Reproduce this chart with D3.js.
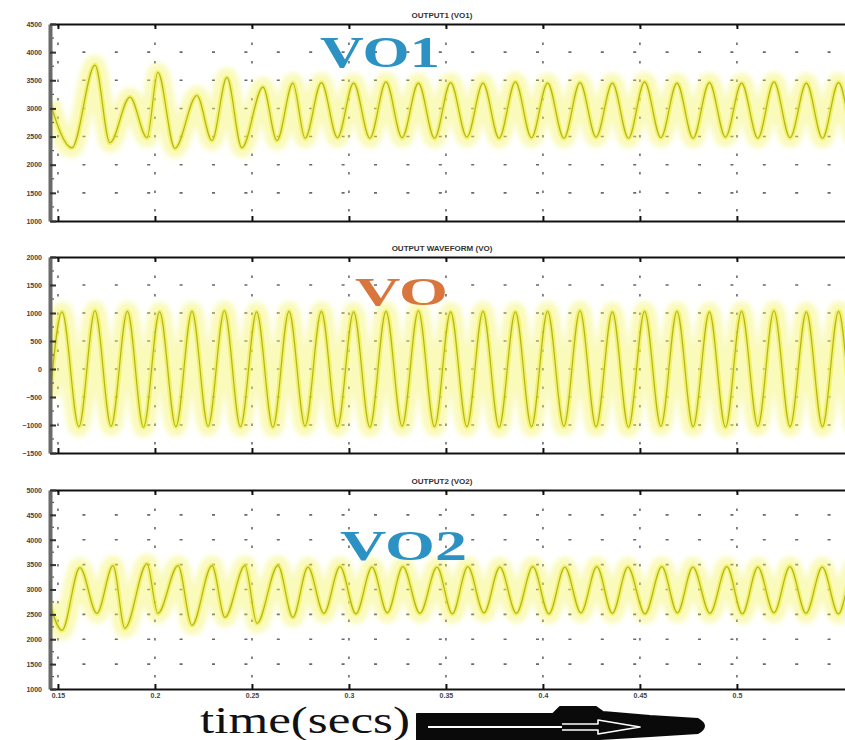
<!DOCTYPE html>
<html>
<head>
<meta charset="utf-8">
<script src="https://cdn.jsdelivr.net/npm/d3@7"></script>
<style>
  html, body { margin: 0; padding: 0; background: #fff; }
  svg { display: block; }
</style>
</head>
<body>
<svg id="chart" width="845" height="740"></svg>
<script>
// ---- time axis (seconds) ----
const timeTicks = [0.15, 0.2, 0.25, 0.3, 0.35, 0.4, 0.45, 0.5];
const timeTickLabels = ["0.15", "0.2", "0.25", "0.3", "0.35", "0.4", "0.45", "0.5"];
const timeDomain = [0.1459, 0.5686];

// ---- value ticks per panel ----
const vo1Ticks = [1000, 1500, 2000, 2500, 3000, 3500, 4000, 4500];
const voTicks = [-1500, -1000, -500, 0, 500, 1000, 1500, 2000];
const vo2Ticks = [1000, 1500, 2000, 2500, 3000, 3500, 4000, 4500, 5000];

const panelTitles = ["OUTPUT1 (VO1)", "OUTPUT WAVEFORM (VO)", "OUTPUT2 (VO2)"];
const panelNames = ["VO1", "VO", "VO2"];

// ---- waveform turning points [time, value] ----
const vo1Points = [
  [0.1459, 3100], [0.1572, 2300], [0.1691, 3770], [0.1768, 2390], [0.1871, 3200],
  [0.1959, 2480], [0.2015, 3640], [0.2103, 2290], [0.2216, 3230], [0.2294, 2430],
  [0.2371, 3550], [0.2448, 2300], [0.2557, 3380], [0.2629, 2430], [0.2711, 3450],
  [0.2774, 2470], [0.2858, 3460], [0.2941, 2480], [0.3024, 3450], [0.3108, 2470],
  [0.3191, 3470], [0.3274, 2480], [0.3358, 3450], [0.3441, 2470], [0.3524, 3460],
  [0.3608, 2490], [0.3691, 3450], [0.3774, 2470], [0.3858, 3470], [0.3941, 2480],
  [0.4024, 3450], [0.4108, 2470], [0.4191, 3460], [0.4274, 2490], [0.4358, 3450],
  [0.4441, 2470], [0.4524, 3470], [0.4608, 2480], [0.4691, 3450], [0.4774, 2470],
  [0.4858, 3460], [0.4941, 2490], [0.5024, 3450], [0.5108, 2470], [0.5191, 3470],
  [0.5274, 2480], [0.5358, 3450], [0.5441, 2470], [0.5524, 3460], [0.5608, 2480],
  [0.5691, 3450]
];

const voPoints = [
  [0.1459, -500], [0.1521, 1020], [0.1608, -1030], [0.1691, 1040], [0.1774, -1020],
  [0.1858, 1030], [0.1941, -1040], [0.2024, 1020], [0.2108, -1030], [0.2191, 1030],
  [0.2274, -1020], [0.2358, 1040], [0.2441, -1030], [0.2524, 1020], [0.2608, -1040],
  [0.2691, 1030], [0.2774, -1020], [0.2858, 1030], [0.2941, -1030], [0.3024, 1020],
  [0.3108, -1040], [0.3191, 1030], [0.3274, -1020], [0.3358, 1040], [0.3441, -1030],
  [0.3524, 1020], [0.3608, -1030], [0.3691, 1030], [0.3774, -1040], [0.3858, 1020],
  [0.3941, -1030], [0.4024, 1030], [0.4108, -1020], [0.4191, 1040], [0.4274, -1030],
  [0.4358, 1020], [0.4441, -1040], [0.4524, 1030], [0.4608, -1020], [0.4691, 1030],
  [0.4774, -1030], [0.4858, 1020], [0.4941, -1040], [0.5024, 1030], [0.5108, -1020],
  [0.5191, 1040], [0.5274, -1030], [0.5358, 1020], [0.5441, -1030], [0.5524, 1030],
  [0.5608, -1040], [0.5691, 1020]
];

const vo2Points = [
  [0.1459, 2700], [0.1521, 2180], [0.1613, 3440], [0.1701, 2520], [0.1784, 3480],
  [0.1845, 2220], [0.1959, 3520], [0.2015, 2520], [0.2119, 3480], [0.2191, 2280],
  [0.2294, 3480], [0.2361, 2440], [0.2464, 3480], [0.2526, 2320], [0.2634, 3480],
  [0.2711, 2440], [0.2789, 3450], [0.2871, 2520], [0.2954, 3460], [0.3036, 2510],
  [0.3119, 3450], [0.3198, 2530], [0.3278, 3460], [0.3366, 2520], [0.3454, 3450],
  [0.3533, 2510], [0.3613, 3460], [0.3696, 2530], [0.3778, 3450], [0.3863, 2520],
  [0.3948, 3460], [0.4031, 2510], [0.4113, 3450], [0.4196, 2530], [0.4278, 3460],
  [0.4358, 2520], [0.4438, 3450], [0.4526, 2510], [0.4613, 3460], [0.4693, 2530],
  [0.4773, 3450], [0.4861, 2520], [0.4948, 3460], [0.5028, 2510], [0.5108, 3450],
  [0.5191, 2530], [0.5273, 3460], [0.5356, 2520], [0.5440, 3450], [0.5523, 2510],
  [0.5606, 3460], [0.5690, 2520]
];

// ---- layout ----
const svg = d3.select("#chart");
const plotLeft = 50, plotRight = 870;
const panels = [
  { top: 24,  bottom: 221, ticks: vo1Ticks, points: vo1Points, title: panelTitles[0], name: panelNames[0],
    nameX: 320, nameY: 67, nameLen: 120, nameSize: 44, nameColor: "#2c92c4", xLabels: false },
  { top: 257, bottom: 453, ticks: voTicks, points: voPoints, title: panelTitles[1], name: panelNames[1],
    nameX: 355, nameY: 305, nameLen: 93, nameSize: 41, nameColor: "#d8763e", xLabels: false },
  { top: 490, bottom: 689, ticks: vo2Ticks, points: vo2Points, title: panelTitles[2], name: panelNames[2],
    nameX: 340, nameY: 560, nameLen: 127, nameSize: 43, nameColor: "#2c92c4", xLabels: true }
];

const x = d3.scaleLinear().domain(timeDomain).range([plotLeft, plotRight]);
const valueFormat = d3.format("d");

const defs = svg.append("defs");
defs.append("filter").attr("id", "glow").attr("x", "-5%").attr("y", "-30%").attr("width", "110%").attr("height", "160%")
  .append("feGaussianBlur").attr("stdDeviation", 2.8);

panels.forEach((p, i) => {
  const y = d3.scaleLinear().domain(d3.extent(p.ticks)).range([p.bottom, p.top]);
  const g = svg.append("g");

  defs.append("clipPath").attr("id", "clip" + i)
    .append("rect").attr("x", plotLeft).attr("y", p.top).attr("width", plotRight - plotLeft).attr("height", p.bottom - p.top);

  // horizontal dotted grid
  const inner = p.ticks.slice(1, -1);
  g.append("g").selectAll("line").data(inner).join("line")
    .attr("x1", plotLeft).attr("x2", plotRight)
    .attr("y1", d => y(d)).attr("y2", d => y(d))
    .attr("stroke", "#2a2a2a").attr("stroke-width", 1.6).attr("stroke-opacity", 0.7)
    .attr("stroke-dasharray", "3,29.4");

  // vertical dotted grid
  g.append("g").selectAll("line").data(timeTicks).join("line")
    .attr("x1", d => x(d)).attr("x2", d => x(d))
    .attr("y1", p.top).attr("y2", p.bottom)
    .attr("stroke", "#2a2a2a").attr("stroke-width", 1.6).attr("stroke-opacity", 0.7)
    .attr("stroke-dasharray", "2.5,16");

  // waveform
  const line = d3.line().x(d => x(d[0])).y(d => y(d[1])).curve(d3.curveMonotoneX);
  const wave = g.append("g").attr("clip-path", `url(#clip${i})`);
  wave.append("path").datum(p.points).attr("d", line)
    .attr("fill", "none").attr("stroke", "#f2f25e").attr("stroke-width", 20)
    .attr("stroke-opacity", 0.42).attr("stroke-linejoin", "round").attr("filter", "url(#glow)");
  wave.append("path").datum(p.points).attr("d", line)
    .attr("fill", "none").attr("stroke", "#ecec3a").attr("stroke-width", 5)
    .attr("stroke-opacity", 0.6).attr("stroke-linejoin", "round");
  wave.append("path").datum(p.points).attr("d", line)
    .attr("fill", "none").attr("stroke", "#b4b41e").attr("stroke-width", 1.2)
    .attr("stroke-linejoin", "round");

  // top border with inward ticks
  const topAxis = g.append("g").attr("transform", `translate(0,${p.top})`)
    .call(d3.axisTop(x).tickValues(timeTicks).tickSizeInner(-5).tickSizeOuter(0).tickFormat(""));
  topAxis.select(".domain").attr("stroke", "#111").attr("stroke-width", 2);
  topAxis.selectAll(".tick line").attr("stroke", "#111").attr("stroke-width", 2);

  // bottom border with inward ticks
  const botAxis = g.append("g").attr("transform", `translate(0,${p.bottom})`)
    .call(d3.axisBottom(x).tickValues(timeTicks).tickSizeInner(-5).tickSizeOuter(0).tickPadding(4)
      .tickFormat(p.xLabels ? (d, k) => timeTickLabels[k] : ""));
  botAxis.select(".domain").attr("stroke", "#111").attr("stroke-width", 2);
  botAxis.selectAll(".tick line").attr("stroke", "#111").attr("stroke-width", 2);
  botAxis.selectAll(".tick text").attr("font-family", "Liberation Sans, Arial, sans-serif")
    .attr("font-size", 7).attr("font-weight", "bold").attr("fill", "#444");

  // minor ticks on the value axis
  const minor = d3.range(p.ticks.length - 1).map(k => (p.ticks[k] + p.ticks[k + 1]) / 2);
  g.append("g").selectAll("line").data(minor).join("line")
    .attr("x1", plotLeft).attr("x2", plotLeft + 4)
    .attr("y1", d => y(d)).attr("y2", d => y(d))
    .attr("stroke", "#555").attr("stroke-width", 1.2);

  // value axis
  const leftAxis = g.append("g").attr("transform", `translate(${plotLeft},0)`)
    .call(d3.axisLeft(y).tickValues(p.ticks).tickFormat(valueFormat)
      .tickSizeInner(-6).tickSizeOuter(0).tickPadding(8));
  leftAxis.select(".domain").attr("stroke", "#6a6a6a").attr("stroke-width", 4);
  leftAxis.selectAll(".tick line").attr("stroke", "#333").attr("stroke-width", 2);
  leftAxis.selectAll(".tick text").attr("font-family", "Liberation Sans, Arial, sans-serif")
    .attr("font-size", 7).attr("font-weight", "bold").attr("fill", "#444");

  // panel title
  g.append("text").attr("x", 442).attr("y", p.top - 6).attr("text-anchor", "middle")
    .attr("font-family", "Liberation Sans, Arial, sans-serif").attr("font-size", 8)
    .attr("font-weight", "bold").attr("fill", "#333").text(p.title);

  // signal name
  g.append("text").attr("x", p.nameX).attr("y", p.nameY)
    .attr("font-family", "Liberation Serif, Times New Roman, serif").attr("font-weight", "bold")
    .attr("font-size", p.nameSize).attr("fill", p.nameColor)
    .attr("textLength", p.nameLen).attr("lengthAdjust", "spacingAndGlyphs")
    .text(p.name);
});

// x-axis caption with arrow
svg.append("text").attr("x", 200).attr("y", 733)
  .attr("font-family", "Liberation Serif, Times New Roman, serif").attr("font-size", 37)
  .attr("fill", "#111").attr("textLength", 210).attr("lengthAdjust", "spacingAndGlyphs")
  .text("time(secs)");

const arrow = svg.append("g");
arrow.append("path")
  .attr("d", "M417,714 L553,714 L560,707 L596,707 L603,712 L650,716 L698,719 Q710,726 698,733 L650,736 L600,739 L417,741 Z")
  .attr("fill", "#0a0a0a").attr("stroke", "#0a0a0a").attr("stroke-width", 2).attr("stroke-linejoin", "round");
arrow.append("line").attr("x1", 428).attr("x2", 562).attr("y1", 727).attr("y2", 727)
  .attr("stroke", "#fff").attr("stroke-width", 2.2);
arrow.append("path")
  .attr("d", "M562,724 L598,724 L598,720 L640,727 L598,734 L598,730 L562,730")
  .attr("fill", "none").attr("stroke", "#fff").attr("stroke-width", 1.6).attr("stroke-linejoin", "round");
</script>
</body>
</html>
